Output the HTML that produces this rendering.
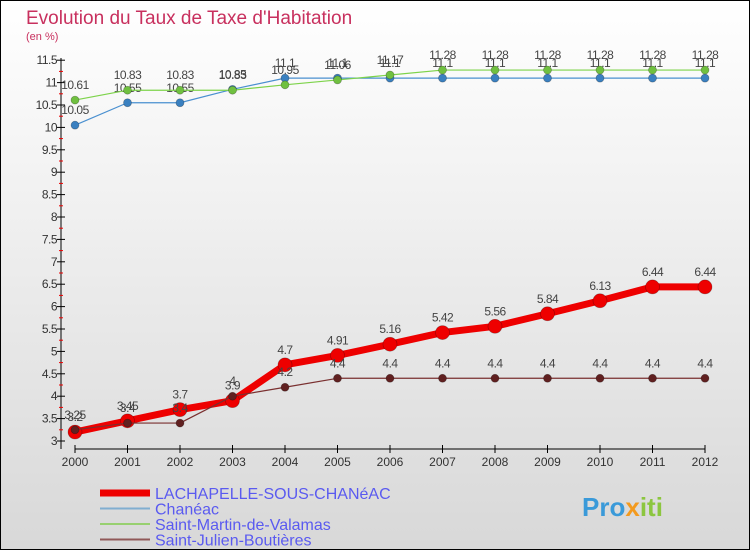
<!DOCTYPE html>
<html><head><meta charset="utf-8"><style>
body{margin:0;width:750px;height:550px;overflow:hidden;font-family:"Liberation Sans",sans-serif}
#c{position:absolute;left:0;top:0}
</style></head><body>
<svg id="c" width="750" height="550">
<defs><linearGradient id="bg" x1="0" y1="0" x2="0" y2="1"><stop offset="0" stop-color="#ffffff"/><stop offset="1" stop-color="#d8d8d8"/></linearGradient></defs>
<rect x="0.5" y="0.5" width="749" height="549" fill="url(#bg)" stroke="#000"/>
<text x="26" y="24" font-size="19" fill="#c8305e">Evolution du Taux de Taxe d'Habitation</text>
<text x="26" y="40" font-size="11" fill="#c8305e">(en %)</text>
<g id="axes"></g><g id="series"></g><g id="legend"></g>
<text x="582" y="516" font-size="26" font-weight="bold" fill="#3a9ad9">Pro<tspan fill="#f39a1e">x</tspan><tspan fill="#8cc63f">iti</tspan></text>
</svg>
<script>
const years=[2000,2001,2002,2003,2004,2005,2006,2007,2008,2009,2010,2011,2012];
const yTicks=[3,3.5,4,4.5,5,5.5,6,6.5,7,7.5,8,8.5,9,9.5,10,10.5,11,11.5];
const lachapelle=[3.2,3.45,3.7,3.9,4.7,4.91,5.16,5.42,5.56,5.84,6.13,6.44,6.44];
const chaneac=[10.05,10.55,10.55,10.85,11.1,11.1,11.1,11.1,11.1,11.1,11.1,11.1,11.1];
const stmartin=[10.61,10.83,10.83,10.83,10.95,11.06,11.17,11.28,11.28,11.28,11.28,11.28,11.28];
const stjulien=[3.25,3.4,3.4,4,4.2,4.4,4.4,4.4,4.4,4.4,4.4,4.4,4.4];
const NS="http://www.w3.org/2000/svg";
const X=i=>75+i*52.5, Y=v=>441-(v-3)*44.8;
function mk(p,t,a){const e=document.createElementNS(NS,t);for(const k in a)e.setAttribute(k,a[k]);p.appendChild(e);return e;}
const ax=document.getElementById('axes');
let e=mk(ax,'line',{x1:61,y1:58,x2:61,y2:449,stroke:'#000'});

e=mk(ax,'line',{x1:75,y1:449,x2:705,y2:449,stroke:'#000'});

yTicks.forEach(v=>{mk(ax,'line',{x1:57,y1:Y(v),x2:65,y2:Y(v),stroke:'#000'});
 if(v<11.5)mk(ax,'line',{x1:59,y1:Y(v+0.25),x2:63,y2:Y(v+0.25),stroke:'#e00'});
 const t=mk(ax,'text',{x:57,y:Y(v)+4,'font-size':12,'text-anchor':'end',fill:'#333','letter-spacing':'-0.5'});t.textContent=String(v);
 });
years.forEach((y,i)=>{mk(ax,'line',{x1:X(i),y1:445,x2:X(i),y2:453,stroke:'#000'});
 const t=mk(ax,'text',{x:X(i),y:466,'font-size':12,'text-anchor':'middle',fill:'#333'});t.textContent=y;
 });
const sg=document.getElementById('series');
function draw(data,color,w,r,fill,name){
 const g=mk(sg,'g',{});
 mk(g,'polyline',{points:data.map((v,i)=>X(i)+','+Y(v)).join(' '),fill:'none',stroke:color,'stroke-width':w,'stroke-linejoin':'round'});
 data.forEach((v,i)=>{const c=mk(g,'circle',{cx:X(i),cy:Y(v),r:r,fill:fill,stroke:'rgba(0,0,0,0.3)','stroke-width':0.7});
  
  const t=mk(g,'text',{x:X(i),y:Y(v)-11,'font-size':12,'text-anchor':'middle',fill:'#444','letter-spacing':'-0.5'});t.textContent=String(v);});
}
draw(chaneac,'#4a90d0',1.2,4,'#3a80c0','series-chaneac');
draw(stmartin,'#7dd34a',1.2,4,'#70c040','series-saint-martin');
draw(lachapelle,'#ee0000',7,7,'#ee0000','series-lachapelle');
draw(stjulien,'#7a3030',1.2,4,'#602020','series-saint-julien');
const lg=document.getElementById('legend');
[['LACHAPELLE-SOUS-CHANéAC','#ee0000',7],['Chanéac','#80aed0',2],['Saint-Martin-de-Valamas','#98d070',2],['Saint-Julien-Boutières','#905858',2]].forEach((d,i)=>{
 const g=mk(lg,'g',{});
 const y=493+i*15.5;mk(g,'line',{x1:100,y1:y,x2:150,y2:y,stroke:d[1],'stroke-width':d[2]});
 const t=mk(g,'text',{x:155,y:y+6,'font-size':16,fill:'#5a5af0'});t.textContent=d[0];});
</script>
</body></html>
